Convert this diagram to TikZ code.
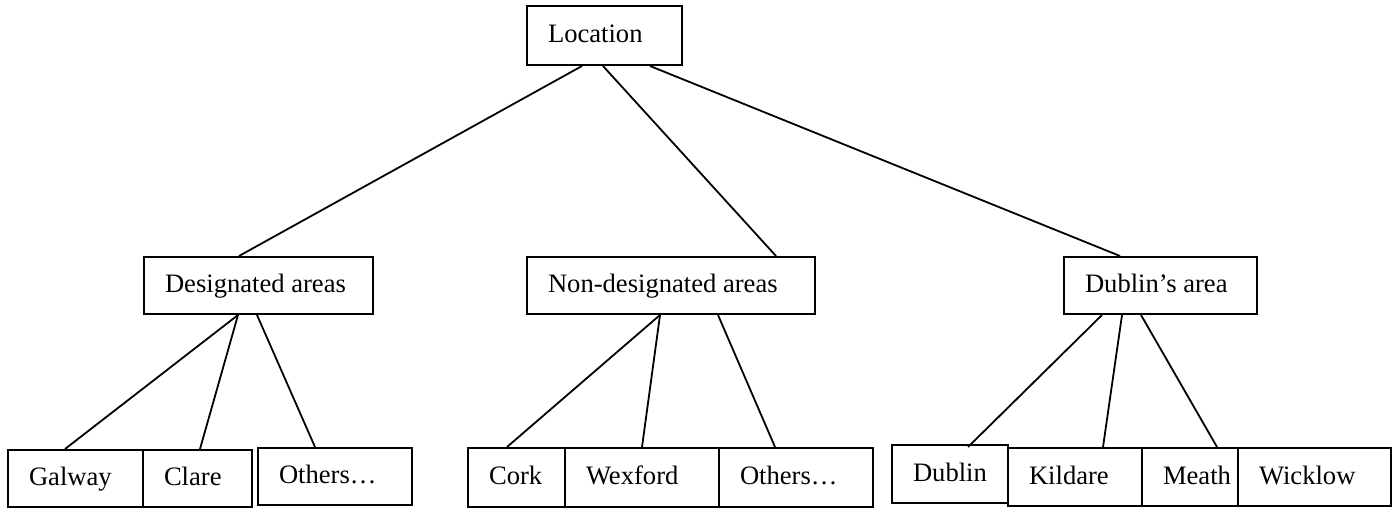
\documentclass[tikz,border=0pt]{standalone}
\usepackage{fontspec}
\setmainfont{Liberation Serif}
\usetikzlibrary{calc}
\newlength\pxu
\setlength\pxu{0.5pt}
\newcommand\bxtext[2]{\makebox[#1\pxu][l]{\hspace*{21\pxu}#2}}
\tikzset{
  bx/.style={draw, line width=1pt, inner sep=0pt, anchor=north west,
    minimum height=57\pxu, text height=10pt, text depth=3pt,
    font=\fontsize{13.3}{15}\selectfont},
  ln/.style={line width=0.9pt}
}
\begin{document}
\begin{tikzpicture}[x=\pxu, y=-\pxu]
\useasboundingbox (0,0) rectangle (1400,508);
% level 0
\node[bx, minimum height=59\pxu] (loc) at (526,5) {\bxtext{155}{Location}};
% level 1
\node[bx] (des) at (143,256) {\bxtext{229}{Designated areas}};
\node[bx] (non) at (526,256) {\bxtext{288}{Non-designated areas}};
\node[bx] (dub) at (1063,256) {\bxtext{193}{Dublin’s area}};
% level 2
\node[bx] (galway) at (7,449) {\bxtext{135}{Galway}};
\node[bx] (clare) at (142,449) {\bxtext{109}{Clare}};
\node[bx] (otha) at (257,447) {\bxtext{154}{Others…}};
\node[bx, minimum height=59\pxu] (cork) at (467,447) {\bxtext{97}{Cork}};
\node[bx, minimum height=59\pxu] (wex) at (564,447) {\bxtext{154}{Wexford}};
\node[bx, minimum height=59\pxu] (othb) at (718,447) {\bxtext{154}{Others…}};
\node[bx, minimum height=58\pxu] (dublin) at (891,444) {\bxtext{116}{Dublin}};
\node[bx, minimum height=58\pxu] (kildare) at (1007,447) {\bxtext{134}{Kildare}};
\node[bx, minimum height=58\pxu] (meath) at (1141,447) {\bxtext{96}{Meath}};
\node[bx, minimum height=58\pxu] (wicklow) at (1237,447) {\bxtext{153}{Wicklow}};
% connectors
\draw[ln] ([xshift=56\pxu]loc.south west) -- ([xshift=96\pxu]des.north west);
\draw[ln] ([xshift=77\pxu]loc.south west) -- ([xshift=250\pxu]non.north west);
\draw[ln] ([xshift=124\pxu]loc.south west) -- ([xshift=57\pxu]dub.north west);
\draw[ln] ([xshift=95\pxu]des.south west) -- ([xshift=58\pxu]galway.north west);
\draw[ln] ([xshift=95\pxu]des.south west) -- ([xshift=58\pxu]clare.north west);
\draw[ln] ([xshift=114\pxu]des.south west) -- ([xshift=58\pxu]otha.north west);
\draw[ln] ([xshift=134\pxu]non.south west) -- ([xshift=40\pxu]cork.north west);
\draw[ln] ([xshift=134\pxu]non.south west) -- ([xshift=78\pxu]wex.north west);
\draw[ln] ([xshift=192\pxu]non.south west) -- ([xshift=57\pxu]othb.north west);
\draw[ln] ([xshift=39\pxu]dub.south west) -- ([xshift=77\pxu,yshift=-3\pxu]dublin.north west);
\draw[ln] ([xshift=59\pxu]dub.south west) -- ([xshift=96\pxu]kildare.north west);
\draw[ln] ([xshift=78\pxu]dub.south west) -- ([xshift=76\pxu]meath.north west);
\end{tikzpicture}
\end{document}
